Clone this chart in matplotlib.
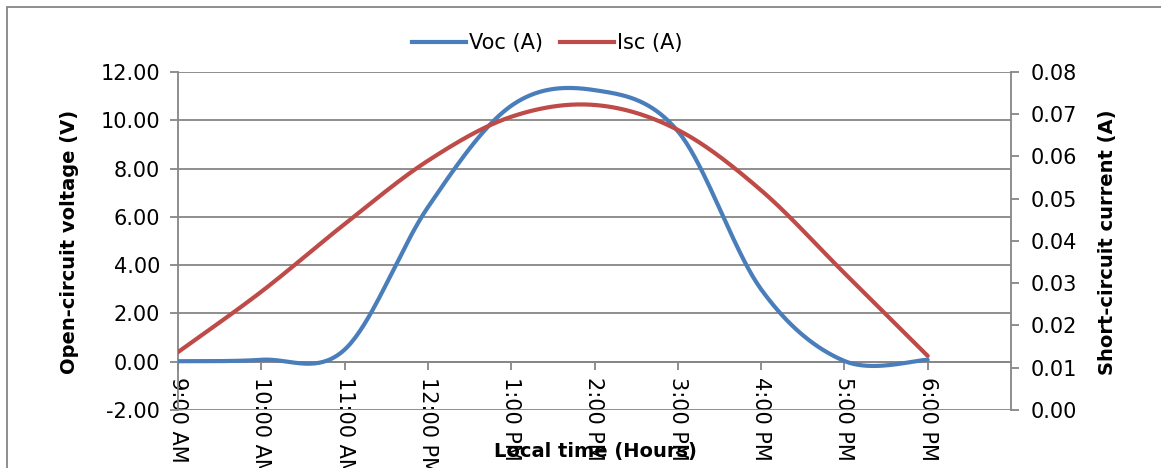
import numpy as np
import matplotlib
matplotlib.use("Agg")
import matplotlib.pyplot as plt
from matplotlib.patches import Rectangle
from matplotlib.lines import Line2D
from matplotlib.ticker import FormatStrFormatter

plt.rcParams['axes.unicode_minus'] = False

# data
times = ["9:00 AM", "10:00 AM", "11:00 AM", "12:00 PM", "1:00 PM",
         "2:00 PM", "3:00 PM", "4:00 PM", "5:00 PM", "6:00 PM"]
voc = [0.02, 0.08, 0.5, 6.4, 10.6, 11.25, 9.55, 3.0, 0.03, 0.08]
isc = [0.0137, 0.028, 0.044, 0.059, 0.0694, 0.0722, 0.0663, 0.052, 0.0324, 0.0128]

grey = '#868686'
blue = '#4A7EBB'
red = '#BE4B48'


def smooth(vals, n=40):
    # Excel style "smoothed line": bezier segments, control points from neighbours (/6)
    y = np.asarray(vals, float)
    x = np.arange(len(y), dtype=float)
    p = np.column_stack([x, y])
    pp = np.vstack([p[0], p, p[-1]])
    t = np.linspace(0, 1, n)[:, None]
    segs = []
    for k in range(len(p) - 1):
        a, b = pp[k + 1], pp[k + 2]
        c1 = a + (pp[k + 2] - pp[k]) / 6
        c2 = b - (pp[k + 3] - pp[k + 1]) / 6
        s = (1 - t)**3 * a + 3 * (1 - t)**2 * t * c1 + 3 * (1 - t) * t**2 * c2 + t**3 * b
        segs.append(s if k == 0 else s[1:])
    s = np.vstack(segs)
    return s[:, 0], s[:, 1]


W, H = 1161, 468
fig = plt.figure(figsize=(W / 100, H / 100), dpi=100)
ax = fig.add_axes([178 / W, 1 - 410 / H, (1011 - 178) / W, (410 - 72) / H])

ax.set_xlim(0, 10)
ax.set_ylim(-2, 12)
ax.set_yticks(np.arange(-2, 13, 2))
ax.yaxis.set_major_formatter(FormatStrFormatter('%.2f'))
ax.grid(axis='y', color=grey, lw=1.3)
ax.set_axisbelow(True)
for s in ['top', 'right']:
    ax.spines[s].set_visible(False)
ax.spines['bottom'].set_position(('data', 0))
ax.spines['bottom'].set_color(grey)
ax.spines['left'].set_color(grey)
ax.spines['bottom'].set_linewidth(1.3)
ax.spines['left'].set_linewidth(1.3)

ax.set_xticks(range(len(times)))
ax.set_xticklabels(times)
ax.tick_params(axis='x', direction='out', length=6, width=1.3, color=grey,
               pad=5, labelsize=15, labelrotation=-90)
ax.tick_params(axis='y', direction='out', length=6, width=1.3, color=grey,
               pad=7, labelsize=15)

xs, ys = smooth(voc)
ax.plot(xs, ys, color=blue, lw=3, zorder=3, solid_capstyle='round')

ax2 = ax.twinx()
ax2.set_ylim(0, 0.08)
ax2.set_yticks(np.arange(0, 0.081, 0.01))
ax2.yaxis.set_major_formatter(FormatStrFormatter('%.2f'))
for s in ['top', 'left', 'bottom']:
    ax2.spines[s].set_visible(False)
ax2.spines['right'].set_color(grey)
ax2.spines['right'].set_linewidth(1.3)
ax2.tick_params(axis='y', direction='out', length=6, width=1.3, color=grey,
                pad=8, labelsize=15)
xs, ys = smooth(isc)
ax2.plot(xs, ys, color=red, lw=3, zorder=3, solid_capstyle='round')

# axis titles
fig.text(70 / W, 1 - 242 / H, 'Open-circuit voltage (V)', rotation=90,
         ha='center', va='center', fontsize=14, fontweight='bold')
fig.text(1108 / W, 1 - 242 / H, 'Short-circuit current (A)', rotation=90,
         ha='center', va='center', fontsize=14, fontweight='bold')
fig.text(595 / W, 1 - 451 / H, 'Local time (Hours)',
         ha='center', va='center', fontsize=14, fontweight='bold')

handles = [Line2D([], [], color=blue, lw=3), Line2D([], [], color=red, lw=3)]
fig.legend(handles, ['Voc (A)', 'Isc (A)'], loc='center',
           bbox_to_anchor=(547 / W, 1 - 43 / H), ncol=2, frameon=False,
           fontsize=15, handlelength=2.6, handletextpad=0.15, columnspacing=0.8)

# chart border (cut off at right and bottom in the original)
fig.patches.append(Rectangle((7 / W, -0.1), 1.2, 1.1 - 7 / H, transform=fig.transFigure,
                             fill=False, edgecolor=grey, lw=1.3))

fig.savefig('out.png', dpi=100)
